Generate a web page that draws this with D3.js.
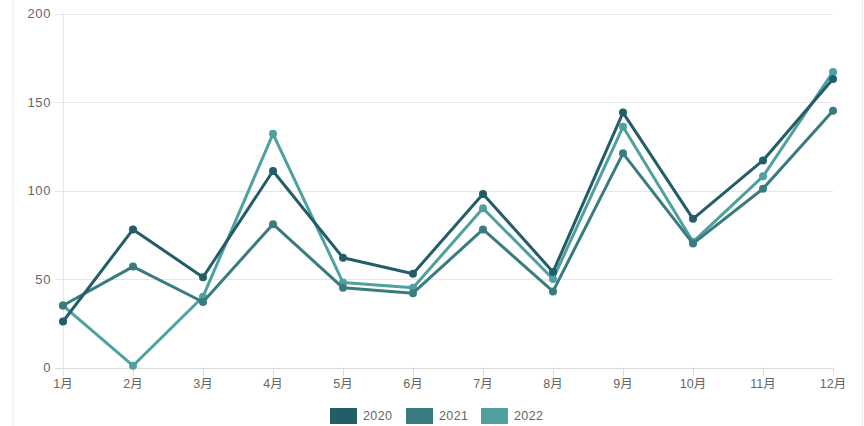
<!DOCTYPE html>
<html>
<head>
<meta charset="utf-8">
<script src="https://cdn.jsdelivr.net/npm/d3@7.9.0/dist/d3.min.js"></script>
<style>
  body { margin: 0; background: #fff; }
  svg { display: block; font-family: "Liberation Sans", Arial, "Noto Sans CJK SC", sans-serif; }
</style>
</head>
<body>
<div id="viz"></div>
<script>
const months = ["1月", "2月", "3月", "4月", "5月", "6月", "7月", "8月", "9月", "10月", "11月", "12月"];
const years = ["2020", "2021", "2022"];
const values2020 = [26, 78, 51, 111, 62, 53, 98, 54, 144, 84, 117, 163];
const values2021 = [35, 57, 37, 81, 45, 42, 78, 43, 121, 70, 101, 145];
const values2022 = [35, 1, 40, 132, 48, 45, 90, 50, 136, 71, 108, 167];
const yTicks = [0, 50, 100, 150, 200];
const colors = ["#235d68", "#3a7b7f", "#4fa19f"];

const series = [values2020, values2021, values2022].map((vals, i) => ({
  name: years[i],
  color: colors[i],
  values: vals
}));

const width = 864, height = 426;
const svg = d3.select("#viz").append("svg")
  .attr("width", width)
  .attr("height", height);

// container edges
svg.append("line")
  .attr("x1", 13).attr("x2", 13).attr("y1", 0).attr("y2", height)
  .attr("stroke", "#ececec");
svg.append("line")
  .attr("x1", 862.5).attr("x2", 862.5).attr("y1", 0).attr("y2", height)
  .attr("stroke", "#ececec");

const x = d3.scalePoint().domain(months).range([63, 833]);
const y = d3.scaleLinear().domain([0, 200]).range([367.5, 13.5]);

// grid
svg.append("g")
  .selectAll("line")
  .data(yTicks)
  .join("line")
  .attr("x1", 55).attr("x2", 833)
  .attr("y1", d => Math.round(y(d)) + 0.5)
  .attr("y2", d => Math.round(y(d)) + 0.5)
  .attr("stroke", d => d === 0 ? "#dcdcdc" : "#e6e6e6");

svg.append("line")
  .attr("x1", 63.5).attr("x2", 63.5)
  .attr("y1", y(200)).attr("y2", y(0) + 9)
  .attr("stroke", "#e6e6e6");

svg.append("g")
  .selectAll("line")
  .data(months.slice(1))
  .join("line")
  .attr("x1", d => Math.round(x(d)) + 0.5)
  .attr("x2", d => Math.round(x(d)) + 0.5)
  .attr("y1", y(0)).attr("y2", y(0) + 9)
  .attr("stroke", "#dcdcdc");

// y labels
svg.append("g")
  .selectAll("text")
  .data(yTicks)
  .join("text")
  .attr("x", 51)
  .attr("y", d => y(d))
  .attr("dy", "0.35em")
  .attr("text-anchor", "end")
  .attr("font-size", 13)
  .attr("letter-spacing", 0.6)
  .attr("fill", "#666")
  .text(d => d);

// x labels
svg.append("g")
  .selectAll("text")
  .data(months)
  .join("text")
  .attr("x", d => x(d))
  .attr("y", 384)
  .attr("dy", "0.35em")
  .attr("text-anchor", "middle")
  .attr("font-size", 12.5)
  .attr("fill", "#666")
  .text(d => d);

const line = d3.line()
  .x((d, i) => x(months[i]))
  .y(d => y(d));

// drawn last dataset first so 2020 sits on top
const groups = svg.append("g")
  .selectAll("g")
  .data(series.slice().reverse())
  .join("g");

groups.append("path")
  .attr("d", d => line(d.values))
  .attr("fill", "none")
  .attr("stroke", d => d.color)
  .attr("stroke-width", 3)
  .attr("stroke-linejoin", "round");

groups.selectAll("circle")
  .data(d => d.values.map((v, i) => ({ v, i, color: d.color })))
  .join("circle")
  .attr("cx", d => x(months[d.i]))
  .attr("cy", d => y(d.v))
  .attr("r", 4)
  .attr("fill", d => d.color);

// legend
const legendX = [330, 406, 481];
const legend = svg.append("g")
  .selectAll("g")
  .data(series)
  .join("g")
  .attr("transform", (d, i) => `translate(${legendX[i]},408)`);

legend.append("rect")
  .attr("width", 27)
  .attr("height", 16)
  .attr("fill", d => d.color);

legend.append("text")
  .attr("x", 33)
  .attr("y", 8)
  .attr("dy", "0.35em")
  .attr("font-size", 12.5)
  .attr("letter-spacing", 0.4)
  .attr("fill", "#666")
  .text(d => d.name);
</script>
</body>
</html>
